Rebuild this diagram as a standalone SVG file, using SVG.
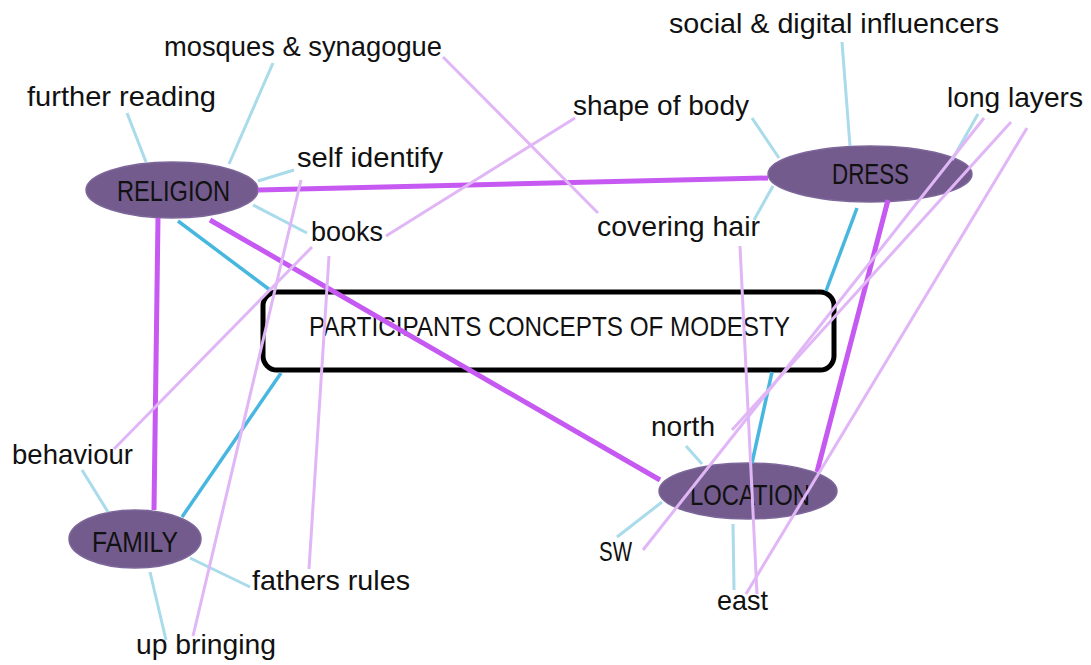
<svg xmlns="http://www.w3.org/2000/svg" width="1091" height="665" viewBox="0 0 1091 665">
<style>
text{font-family:"Liberation Sans",Arial,sans-serif;fill:#111;}
.lbl{font-size:28px;}
.node{font-size:30px;}
.center{font-size:28px;}
.ell{fill:#735b8e;stroke:#7d679a;stroke-width:1.5;}
.box{fill:#fff;stroke:#000;stroke-width:5;}
.thick{stroke:#c659f2;stroke-width:5;fill:none;stroke-linecap:butt;}
.blue{stroke:#48b7df;stroke-width:3.5;fill:none;}
.lb{stroke:#a9dbea;stroke-width:3;fill:none;}
.lp{stroke:#e1b6f7;stroke-width:3;fill:none;}
</style>
<rect width="1091" height="665" fill="#fff"/>
<g id="center">
<rect class="box" x="263" y="292" width="571" height="78" rx="14"/>
<text class="center" x="309" y="336" textLength="481" lengthAdjust="spacingAndGlyphs">PARTICIPANTS CONCEPTS OF MODESTY</text>
</g>
<g id="religion">
<ellipse class="ell" cx="172" cy="190" rx="86" ry="28"/>
<text class="node" x="117" y="201" textLength="113" lengthAdjust="spacingAndGlyphs">RELIGION</text>
</g>
<g id="dress">
<ellipse class="ell" cx="870" cy="174" rx="102" ry="28"/>
<text class="node" x="832" y="184" textLength="77" lengthAdjust="spacingAndGlyphs">DRESS</text>
</g>
<g id="location">
<ellipse class="ell" cx="748" cy="491" rx="89" ry="28"/>
<text class="node" x="690" y="505" textLength="120" lengthAdjust="spacingAndGlyphs">LOCATION</text>
</g>
<g id="family">
<ellipse class="ell" cx="135" cy="539" rx="66" ry="29"/>
<text class="node" x="92" y="552" textLength="86" lengthAdjust="spacingAndGlyphs">FAMILY</text>
</g>
<g id="social"><text class="lbl" x="669" y="33" textLength="330" lengthAdjust="spacingAndGlyphs">social &amp; digital influencers</text></g>
<g id="mosques"><text class="lbl" x="164" y="56" textLength="278" lengthAdjust="spacingAndGlyphs">mosques &amp; synagogue</text></g>
<g id="further"><text class="lbl" x="27" y="106" textLength="189" lengthAdjust="spacingAndGlyphs">further reading</text></g>
<g id="shape"><text class="lbl" x="573" y="115" textLength="176" lengthAdjust="spacingAndGlyphs">shape of body</text></g>
<g id="longlayers"><text class="lbl" x="947" y="107" textLength="136" lengthAdjust="spacingAndGlyphs">long layers</text></g>
<g id="selfidentify"><text class="lbl" x="297" y="167" textLength="146" lengthAdjust="spacingAndGlyphs">self identify</text></g>
<g id="books"><text class="lbl" x="311" y="241" textLength="72" lengthAdjust="spacingAndGlyphs">books</text></g>
<g id="coveringhair"><text class="lbl" x="597" y="236" textLength="163" lengthAdjust="spacingAndGlyphs">covering hair</text></g>
<g id="behaviour"><text class="lbl" x="12" y="464" textLength="121" lengthAdjust="spacingAndGlyphs">behaviour</text></g>
<g id="fathersrules"><text class="lbl" x="252" y="590" textLength="158" lengthAdjust="spacingAndGlyphs">fathers rules</text></g>
<g id="upbringing"><text class="lbl" x="136" y="654" textLength="140" lengthAdjust="spacingAndGlyphs">up bringing</text></g>
<g id="north"><text class="lbl" x="651" y="436" textLength="64" lengthAdjust="spacingAndGlyphs">north</text></g>
<g id="sw"><text class="lbl" x="599" y="561" textLength="33" lengthAdjust="spacingAndGlyphs">SW</text></g>
<g id="east"><text class="lbl" x="717" y="610" textLength="51" lengthAdjust="spacingAndGlyphs">east</text></g>
<g id="connectors">
<line class="lb" x1="127" y1="113" x2="146" y2="162"/>
<line class="lb" x1="273" y1="63" x2="229" y2="164"/>
<line class="lb" x1="258" y1="181" x2="294" y2="170"/>
<line class="lb" x1="253" y1="205" x2="307" y2="233"/>
<line class="lb" x1="752" y1="118" x2="779" y2="158"/>
<line class="lb" x1="842" y1="42" x2="850" y2="146"/>
<line class="lb" x1="978" y1="114" x2="952" y2="160"/>
<line class="lb" x1="773" y1="186" x2="754" y2="220"/>
<line class="lb" x1="82" y1="470" x2="108" y2="512"/>
<line class="lb" x1="190" y1="558" x2="250" y2="587"/>
<line class="lb" x1="150" y1="572" x2="166" y2="640"/>
<line class="lb" x1="686" y1="446" x2="702" y2="464"/>
<line class="lb" x1="662" y1="502" x2="617" y2="537"/>
<line class="lb" x1="733" y1="524" x2="734" y2="590"/>
<line class="blue" x1="178" y1="221" x2="270" y2="290"/>
<line class="blue" x1="182" y1="517" x2="281" y2="373"/>
<line class="blue" x1="857" y1="208" x2="826" y2="291"/>
<line class="blue" x1="772" y1="372" x2="752" y2="463"/>
<line class="thick" x1="258" y1="190" x2="768" y2="178"/>
<line class="thick" x1="210" y1="220" x2="660" y2="480"/>
<line class="thick" x1="158" y1="218" x2="154" y2="510"/>
<line class="thick" x1="888" y1="200" x2="817" y2="472"/>
<line class="lp" x1="443" y1="57" x2="598" y2="213"/>
<line class="lp" x1="575" y1="118" x2="386" y2="236"/>
<line class="lp" x1="312" y1="247" x2="114" y2="449"/>
<line class="lp" x1="301" y1="180" x2="193" y2="636"/>
<line class="lp" x1="329" y1="256" x2="309" y2="569"/>
<line class="lp" x1="740" y1="246" x2="757" y2="594"/>
<line class="lp" x1="984" y1="118" x2="643" y2="550"/>
<line class="lp" x1="1011" y1="122" x2="732" y2="430"/>
<line class="lp" x1="1027" y1="128" x2="746" y2="594"/>
</g>
</svg>
